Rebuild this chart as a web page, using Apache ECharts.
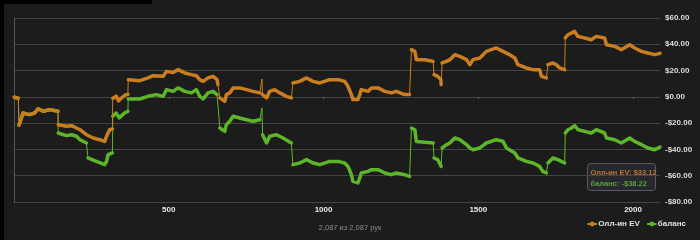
<!DOCTYPE html>
<html><head><meta charset="utf-8">
<script src="https://cdn.jsdelivr.net/npm/echarts@6/dist/echarts.min.js"></script>
<style>html,body{margin:0;padding:0;background:#1c1c1c}#c{width:700px;height:240px}</style>
</head><body><div id="c"></div>
<script>
// Hands axis
const handsTotal = 2087;
const xTicks = [500, 1000, 1500, 2000];
const yTicks = [-80, -60, -40, -20, 0, 20, 40, 60];
const subtitle = '2,087 из 2,087 рук';
const seriesNames = ['Олл-ин EV', 'баланс'];

// All-in EV: runs of [hand, $] between all-in jumps
const evRuns = [
  [[1,-0.3],[6,-0.8],[14,-1]],
  [[16,-21.5],[19,-19.5],[24,-16],[29,-12.3],[40,-13],[51,-13.5],[67,-12.3],[78,-9],[83,-9.7],[94,-11],[116,-9.7],[142,-11]],
  [[143,-21.2],[169,-22.4],[186,-21.9],[202,-23.7],[213,-25],[234,-28.8],[256,-31.3],[277,-32.6],[293,-33.9],[299,-30],[309,-25],[318,-24.4]],
  [[319,-1],[330,0.5],[338,-3],[349,-0.5],[360,1.5],[368,1.8]],
  [[369,13.1],[406,12.3],[433,14.4],[449,16.1],[482,15.6],[493,19.4],[514,18.6],[530,20.7],[552,18.2],[573,16.9],[589,16.1],[600,13.1],[611,11.8],[627,14.4],[643,15.6],[656,13.1],[659,9.3]],
  [[665,-0.8],[681,-3.4],[686,1.7],[697,3],[708,6.8],[729,6.8],[751,5.5],[772,4.2],[794,3]],
  [[801,13.6]],
  [[803,1.7],[816,-0.8],[826,4.2],[842,5.5],[859,3],[880,0.4],[896,-0.8]],
  [[901,10.6],[923,11.8],[945,14.4],[966,11.8],[988,10.6],[1020,13.1],[1026,14.4],[1047,13.1],[1068,11.8],[1079,8],[1090,1.7],[1095,-2.1],[1111,-2.1],[1117,1.7],[1122,5.5],[1144,4.2],[1155,6.8],[1176,6.8],[1198,4.2],[1219,3],[1235,4.2],[1262,1.7],[1278,1.7]],
  [[1284,35.9],[1295,34.6],[1300,28.3],[1327,28.3],[1354,27]],
  [[1357,16.9],[1369,15.6],[1379,13.1],[1380,9.3]],
  [[1383,25.8],[1397,27],[1408,28.3],[1424,32.1],[1440,30.8],[1462,28.3],[1473,24.5],[1483,28.3],[1505,29.6],[1526,34.6],[1558,37.2],[1580,34.6],[1601,32.1],[1618,29.6],[1628,24.5],[1655,22],[1677,20.7],[1698,20.7],[1704,15.6],[1720,14.4]],
  [[1725,24.5],[1741,25.8],[1752,24.5],[1763,22],[1779,20.7]],
  [[1781,44.8],[1790,47.3],[1811,49.8],[1822,46],[1844,44.8],[1865,43.5],[1881,46],[1908,44.8],[1914,39.7],[1941,38.4],[1962,35.9],[1989,39.7],[2005,37.2],[2027,34.6],[2048,33.4],[2070,32.1],[2087,33.12]]
];

// Balance: runs of [hand, $]
const balRuns = [
  [[1,-0.3],[6,-0.8],[14,-1]],
  [[16,-21.5],[19,-19.5],[24,-16],[29,-12.3],[40,-13],[51,-13.5],[67,-12.3],[78,-9],[83,-9.7],[94,-11],[116,-9.7],[142,-11]],
  [[143,-27.5],[169,-29.5],[186,-28.8],[202,-30],[213,-32.6],[234,-35.1]],
  [[239,-46.5],[266,-49.1],[293,-51.6],[299,-49.1],[304,-44],[318,-42.7]],
  [[319,-14.8],[330,-12.3],[340,-16],[357,-12.3],[368,-11]],
  [[369,-1.6],[406,-1.6],[433,0.4],[460,1.7],[482,0.4],[493,5.5],[514,4.2],[530,6.8],[552,4.2],[573,3],[589,5.5],[600,0.4],[611,-1.6],[627,3],[643,4.2],[656,1.7]],
  [[665,-23.7],[681,-26.3],[686,-21.2],[697,-18.6],[708,-14.8],[729,-16.1],[751,-17.4],[772,-18.6],[794,-17.4]],
  [[801,-8.4]],
  [[803,-28.8],[816,-35.1],[826,-30],[848,-28.8],[869,-31.3],[896,-35.1]],
  [[901,-51.6],[923,-50.3],[945,-47.8],[966,-50.3],[988,-51.6],[1020,-49.1],[1026,-47.8],[1047,-49.1],[1068,-50.3],[1079,-52.9],[1090,-59.2],[1095,-64.3],[1111,-65.5],[1117,-61.7],[1122,-57.9],[1144,-56.7],[1155,-55.4],[1176,-55.4],[1198,-57.9],[1219,-59.2],[1235,-57.9],[1262,-59.2],[1278,-60.5]],
  [[1284,-23.7],[1295,-25],[1300,-33.9],[1327,-34.6],[1354,-35.1]],
  [[1357,-46.5],[1369,-47.8],[1380,-52.9]],
  [[1383,-38.9],[1397,-36.4],[1408,-35.1],[1424,-31.3],[1440,-32.6],[1462,-36.4],[1473,-38.9],[1483,-40.2],[1505,-38.9],[1526,-35.1],[1558,-32.6],[1580,-33.9],[1591,-38.9],[1618,-42.7],[1628,-46.5],[1655,-49.1],[1677,-50.3],[1698,-52.9],[1708,-56.7],[1720,-57.9]],
  [[1725,-50.3],[1741,-46.5],[1757,-47.8],[1768,-49.1],[1779,-50.3]],
  [[1781,-27.5],[1790,-25],[1801,-23.7],[1811,-21.9],[1822,-25],[1844,-26.3],[1865,-27.5],[1881,-25],[1908,-27.5],[1914,-31.3],[1941,-32.6],[1962,-35.1],[1989,-31.3],[2005,-33.9],[2027,-36.4],[2048,-38.9],[2070,-40.2],[2087,-38.22]]
];

const ORANGE = '#c97e1f', GREEN = '#5db52a';
const FONT = '"Liberation Sans", Arial, sans-serif';

function joined(runs){ const out=[]; runs.forEach(r=>r.forEach(p=>out.push(p))); return out; }
function broken(runs){ const out=[]; runs.forEach((r,i)=>{ if(i>0) out.push([r[0][0], '-']); r.forEach(p=>out.push(p)); }); return out; }
function money(v){ return (v<0?'-$':'$') + Math.abs(v).toFixed(2); }

const evLast = evRuns[evRuns.length-1].slice(-1)[0][1];
const balLast = balRuns[balRuns.length-1].slice(-1)[0][1];

const chart = echarts.init(document.getElementById('c'), null, {renderer:'canvas'});
chart.setOption({
  backgroundColor: '#1c1c1c',
  animation: false,
  textStyle: {fontFamily: FONT},
  title: {
    text: subtitle, left: 'center', bottom: 3,
    textStyle: {color: '#8a8a8a', fontSize: 7.5, fontWeight: 'normal', fontFamily: FONT}
  },
  legend: {
    data: seriesNames, right: 9, bottom: 7, itemGap: 7, itemWidth: 8, itemHeight: 6,
    textStyle: {color: '#e0e0e0', fontSize: 8, fontWeight: 'bold', fontFamily: FONT, padding: [0,0,0,-3]}
  },
  grid: {left: 14, right: 40, top: 18, bottom: 38},
  xAxis: {
    type: 'value', min: 0, max: handsTotal, interval: 500,
    axisLine: {show: false},
    axisTick: {show: true, length: 2, lineStyle: {color: '#666'}},
    splitLine: {show: false},
    axisLabel: {color: '#e8e8e8', fontSize: 8, fontWeight: 'bold', margin: 4, showMinLabel: false, showMaxLabel: false,
      formatter: v => xTicks.indexOf(v) >= 0 ? String(v) : ''}
  },
  yAxis: {
    type: 'value', position: 'right', min: yTicks[0], max: yTicks[yTicks.length-1], interval: 20,
    axisLine: {show: true, lineStyle: {color: '#555'}},
    axisTick: {show: false},
    splitLine: {show: true, lineStyle: {color: '#444', width: 1}},
    axisLabel: {color: '#dddddd', fontSize: 8, fontWeight: 'bold', margin: 5, formatter: money}
  },
  series: [
    {name: 'bal-thin', type: 'line', data: joined(balRuns), showSymbol: false, silent: true,
     lineStyle: {color: GREEN, width: 1}, z: 2},
    {name: seriesNames[1], type: 'line', data: broken(balRuns), showSymbol: false, symbol: 'circle', symbolSize: 5,
     connectNulls: false, itemStyle: {color: GREEN}, lineStyle: {color: GREEN, width: 3.5, join: 'round', cap: 'round'}, z: 3},
    {name: 'ev-thin', type: 'line', data: joined(evRuns), showSymbol: false, silent: true,
     lineStyle: {color: ORANGE, width: 1}, z: 4},
    {name: seriesNames[0], type: 'line', data: broken(evRuns), showSymbol: false, symbol: 'circle', symbolSize: 5,
     connectNulls: false, itemStyle: {color: ORANGE}, lineStyle: {color: ORANGE, width: 3.5, join: 'round', cap: 'round'}, z: 5}
  ],
  graphic: [
    {type: 'rect', left: 0, top: 0, shape: {width: 4, height: 240}, style: {fill: '#000'}, z: 100},
    {type: 'rect', left: 0, top: 0, shape: {width: 152, height: 4}, style: {fill: '#000'}, z: 100},
    {type: 'group', left: 587, top: 163, z: 100, children: [
      {type: 'rect', shape: {x: 0, y: 0, width: 68, height: 27, r: 3},
       style: {fill: 'rgba(40,40,48,0.92)', stroke: '#5a5a66', lineWidth: 1}},
      {type: 'text', x: 3, y: 5, style: {text: seriesNames[0] + ': ' + money(evLast), fill: '#b87530', font: 'bold 7.5px ' + FONT}},
      {type: 'text', x: 3, y: 16, style: {text: seriesNames[1] + ': ' + money(balLast), fill: '#5fa036', font: 'bold 7.5px ' + FONT}}
    ]}
  ]
});
</script></body></html>
